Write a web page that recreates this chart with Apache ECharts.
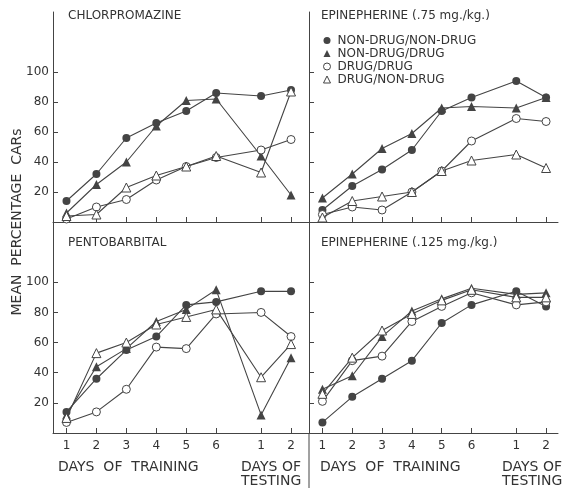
<!DOCTYPE html>
<html>
<head>
<meta charset="utf-8">
<script src="https://cdn.jsdelivr.net/npm/echarts@6/dist/echarts.min.js"></script>
<style>
html,body{margin:0;padding:0;background:#fff;}
#chart{width:563px;height:488px;}
</style>
</head>
<body>
<div id="chart"></div>
<script>
// Day positions on the x scale (training days 1-6, then testing days 1-2 after a gap)
var xPositions = [1, 2, 3, 4, 5, 6, 7.5, 8.5];
var xTickLabels = ['1', '2', '3', '4', '5', '6', '1', '2'];
var yTicks = [20, 40, 60, 80, 100];

var groupNames = ['NON-DRUG/NON-DRUG', 'NON-DRUG/DRUG', 'DRUG/DRUG', 'DRUG/NON-DRUG'];
var panelTitles = ['CHLORPROMAZINE', 'EPINEPHERINE (.75 mg./kg.)', 'PENTOBARBITAL', 'EPINEPHERINE (.125 mg./kg.)'];

// Chlorpromazine
var chlorNonNon   = [14, 32, 56, 66, 74, 86, 84, 88];
var chlorNonDrug  = [6, 25, 40, 64, 81, 82, 44, 18];
var chlorDrugDrug = [2, 10, 15, 28, 37, 43, 48, 55];
var chlorDrugNon  = [4, 5, 23, 31, 37, 44, 33, 87];

// Epinephrine .75 mg/kg
var epi75NonNon   = [8, 24, 35, 48, 74, 83, 94, 83];
var epi75NonDrug  = [16, 32, 49, 59, 76, 77, 76, 83];
var epi75DrugDrug = [5, 10, 8, 20, 34, 54, 69, 67];
var epi75DrugNon  = [3, 14, 17, 20, 34, 41, 45, 36];

// Pentobarbital
var pentoNonNon   = [14, 36, 55, 64, 85, 87, 94, 94];
var pentoNonDrug  = [12, 44, 56, 74, 82, 95, 12, 50];
var pentoDrugDrug = [7, 14, 29, 57, 56, 79, 80, 64];
var pentoDrugNon  = [10, 53, 60, 72, 77, 82, 37, 59];

// Epinephrine .125 mg/kg
var epi125NonNon   = [7, 24, 36, 48, 73, 85, 94, 84];
var epi125NonDrug  = [29, 38, 64, 81, 89, 96, 92, 93];
var epi125DrugDrug = [21, 48, 51, 74, 84, 93, 85, 87];
var epi125DrugNon  = [26, 50, 68, 79, 88, 95, 90, 90];

var panels = [
  [chlorNonNon, chlorNonDrug, chlorDrugDrug, chlorDrugNon],
  [epi75NonNon, epi75NonDrug, epi75DrugDrug, epi75DrugNon],
  [pentoNonNon, pentoNonDrug, pentoDrugDrug, pentoDrugNon],
  [epi125NonNon, epi125NonDrug, epi125DrugDrug, epi125DrugNon]
];

var INK = '#444';
var TXT = '#333';
var FONT = 'DejaVu Sans';
var symbols = ['circle', 'triangle', 'circle', 'triangle'];
var legendIcons = ['circle', 'triangle', 'emptyCircle', 'emptyTriangle'];
var symbolSizes = [8, 9, 8, 9];

var grids = [
  {left: 53, top: 12, width: 256, height: 210},
  {left: 309, top: 12, width: 249, height: 210},
  {left: 53, top: 222, width: 256, height: 211},
  {left: 309, top: 222, width: 249, height: 211}
];
var xMax = [9.1, 8.9, 9.1, 8.9];

var xAxes = grids.map(function (g, i) {
  return {
    type: 'value', gridIndex: i, min: 0.55, max: xMax[i],
    axisLine: {show: true, onZero: false, lineStyle: {color: INK, width: 1}},
    axisTick: {show: true, inside: true, length: 5, customValues: xPositions, lineStyle: {color: INK}},
    axisLabel: {show: i >= 2, customValues: xPositions, color: TXT, fontSize: 12, fontFamily: FONT, margin: 7,
      formatter: function (v) { var k = xPositions.indexOf(v); return k >= 0 ? xTickLabels[k] : ''; }},
    splitLine: {show: false}
  };
});
var yAxes = grids.map(function (g, i) {
  return {
    type: 'value', gridIndex: i, min: 0, max: 140,
    axisLine: {show: true, onZero: false, lineStyle: {color: INK, width: 1}},
    axisTick: {show: true, inside: true, length: 5, customValues: yTicks, lineStyle: {color: INK}},
    axisLabel: {show: i % 2 === 0, customValues: yTicks, color: TXT, fontSize: 12, fontFamily: FONT, margin: 4},
    splitLine: {show: false}
  };
});

var series = [];
panels.forEach(function (groups, p) {
  groups.forEach(function (vals, g) {
    var open = g >= 2;
    series.push({
      type: 'line', name: groupNames[g], xAxisIndex: p, yAxisIndex: p,
      data: xPositions.map(function (x, k) { return [x, vals[k]]; }),
      symbol: symbols[g], symbolSize: symbolSizes[g], showAllSymbol: true,
      lineStyle: {color: INK, width: 1.1},
      itemStyle: open ? {color: '#fff', borderColor: INK, borderWidth: 1}
                      : {color: INK, borderColor: INK, borderWidth: 0},
      emphasis: {disabled: true},
      animation: false, z: 2 + g
    });
  });
});

var titleBoxes = [
  {left: 68, top: 10}, {left: 321, top: 10}, {left: 68, top: 237}, {left: 321, top: 237}
];

var option = {
  backgroundColor: '#fff',
  animation: false,
  title: panelTitles.map(function (t, i) {
    return {text: t, left: titleBoxes[i].left, top: titleBoxes[i].top, padding: 0,
      textStyle: {fontSize: 12, fontWeight: 'normal', color: TXT, fontFamily: FONT}};
  }),
  legend: {
    orient: 'vertical', left: 323, top: 34, padding: 0,
    itemWidth: 7, itemHeight: 7, itemGap: 0, selectedMode: false,
    textStyle: {fontSize: 12, color: TXT, fontFamily: FONT, lineHeight: 13, padding: [0, 0, 0, 2]},
    data: groupNames.map(function (n, g) {
      var open = g >= 2;
      return {name: n, icon: symbols[g],
        itemStyle: open ? {color: '#fff', borderColor: INK, borderWidth: 1} : {color: INK, borderWidth: 0}};
    })
  },
  grid: grids.map(function (g) { return Object.assign({containLabel: false}, g); }),
  xAxis: xAxes,
  yAxis: yAxes,
  series: series,
  graphic: [
    {type: 'line', shape: {x1: 309, y1: 433, x2: 309, y2: 488}, style: {stroke: INK, lineWidth: 1}},
    {type: 'text', x: 17, y: 222, rotation: Math.PI / 2,
      style: {text: 'MEAN  PERCENTAGE  CARs', fontSize: 14, fontFamily: FONT, fill: TXT, align: 'center', verticalAlign: 'middle'}},
    {type: 'text', x: 58, y: 467, style: {text: 'DAYS  OF  TRAINING', fontSize: 14, fontFamily: FONT, fill: TXT, verticalAlign: 'middle'}},
    {type: 'text', x: 241, y: 467, style: {text: 'DAYS OF', fontSize: 14, fontFamily: FONT, fill: TXT, verticalAlign: 'middle'}},
    {type: 'text', x: 241, y: 481, style: {text: 'TESTING', fontSize: 14, fontFamily: FONT, fill: TXT, verticalAlign: 'middle'}},
    {type: 'text', x: 320, y: 467, style: {text: 'DAYS  OF  TRAINING', fontSize: 14, fontFamily: FONT, fill: TXT, verticalAlign: 'middle'}},
    {type: 'text', x: 502, y: 467, style: {text: 'DAYS OF', fontSize: 14, fontFamily: FONT, fill: TXT, verticalAlign: 'middle'}},
    {type: 'text', x: 502, y: 481, style: {text: 'TESTING', fontSize: 14, fontFamily: FONT, fill: TXT, verticalAlign: 'middle'}}
  ]
};

var chart = echarts.init(document.getElementById('chart'), null, {renderer: 'canvas'});
chart.setOption(option);
</script>
</body>
</html>
